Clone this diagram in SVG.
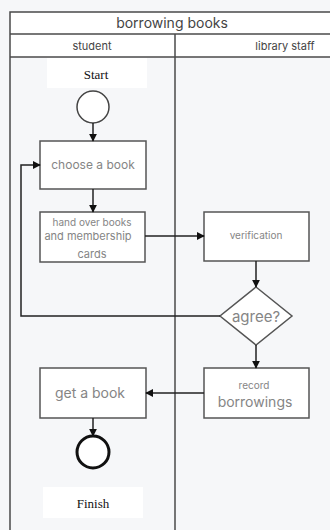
<svg xmlns="http://www.w3.org/2000/svg" width="330" height="530" viewBox="0 0 330 530">
<defs>
<style>
.frame{fill:none;stroke:#4a4a4a;stroke-width:1.5}
.box{fill:#ffffff;stroke:#555;stroke-width:1.5}
.lbl{fill:#ffffff}
.t{font-family:Inter,"Liberation Sans",sans-serif;fill:#858585;text-anchor:middle}
.h{font-family:Inter,"Liberation Sans",sans-serif;fill:#444;text-anchor:middle}
.s{font-family:"Liberation Serif",serif;fill:#111;text-anchor:middle;font-size:13px}
.ln{fill:none;stroke:#222;stroke-width:1.5}
</style>
<marker id="ah" viewBox="0 0 10 10" refX="9" refY="5" markerWidth="8" markerHeight="8" orient="auto" markerUnits="userSpaceOnUse">
<path d="M0,0 L10,5 L0,10 z" fill="#111"/>
</marker>
</defs>
<rect x="0" y="0" width="330" height="530" fill="#f6f7f9"/>
<g id="pool">
<rect x="10" y="12" width="322" height="45" fill="#ffffff"/>
<rect x="10" y="12" width="322" height="530" class="frame"/>
<line x1="10" y1="34" x2="332" y2="34" class="frame"/>
<line x1="10" y1="57" x2="332" y2="57" class="frame"/>
<line x1="175" y1="34" x2="175" y2="530" class="frame"/>
<text x="172" y="28" class="h" font-size="14">borrowing books</text>
<text x="92" y="50" class="h" font-size="11">student</text>
<text x="285" y="50" class="h" font-size="11">library staff</text>
</g>
<g id="start">
<rect x="47" y="58" width="100" height="30" class="lbl"/>
<text x="96" y="79" class="s">Start</text>
<circle cx="93" cy="107" r="16" fill="#ffffff" stroke="#444" stroke-width="1.5"/>
</g>
<g id="choose">
<rect x="40" y="141" width="106" height="48" class="box"/>
<text x="93" y="169" class="t" font-size="12">choose a book</text>
</g>
<g id="handover">
<rect x="40" y="212" width="105" height="50" class="box"/>
<text x="92" y="226" class="t" font-size="10">hand over books</text>
<text x="88" y="240" class="t" font-size="11">and membership</text>
<text x="92" y="258" class="t" font-size="11">cards</text>
</g>
<g id="verification">
<rect x="204" y="212" width="105" height="49" class="box"/>
<text x="256" y="239" class="t" font-size="10">verification</text>
</g>
<g id="agree">
<polygon points="256,287 292,316 256,345 220,316" fill="#ffffff" stroke="#555" stroke-width="1.5"/>
<text x="256" y="322" class="t" font-size="15">agree?</text>
</g>
<g id="record">
<rect x="204" y="368" width="105" height="50" class="box"/>
<text x="254" y="389" class="t" font-size="10">record</text>
<text x="255" y="407" class="t" font-size="14">borrowings</text>
</g>
<g id="getbook">
<rect x="40" y="368" width="106" height="50" class="box"/>
<text x="90" y="398" class="t" font-size="14">get a book</text>
</g>
<g id="finish">
<circle cx="93" cy="452" r="16" fill="#ffffff" stroke="#111" stroke-width="3"/>
<rect x="43" y="487" width="100" height="31" class="lbl"/>
<text x="93" y="508" class="s">Finish</text>
</g>
<g id="connectors">
<line x1="93" y1="123" x2="93" y2="141" class="ln" marker-end="url(#ah)"/>
<line x1="93" y1="189" x2="93" y2="212" class="ln" marker-end="url(#ah)"/>
<line x1="145" y1="236" x2="204" y2="236" class="ln" marker-end="url(#ah)"/>
<line x1="256" y1="261" x2="256" y2="287" class="ln" marker-end="url(#ah)"/>
<polyline points="220,316 21,316 21,165 40,165" class="ln" marker-end="url(#ah)"/>
<line x1="256" y1="345" x2="256" y2="368" class="ln" marker-end="url(#ah)"/>
<line x1="204" y1="393" x2="146" y2="393" class="ln" marker-end="url(#ah)"/>
<line x1="93" y1="418" x2="93" y2="436" class="ln" marker-end="url(#ah)"/>
</g>
</svg>
